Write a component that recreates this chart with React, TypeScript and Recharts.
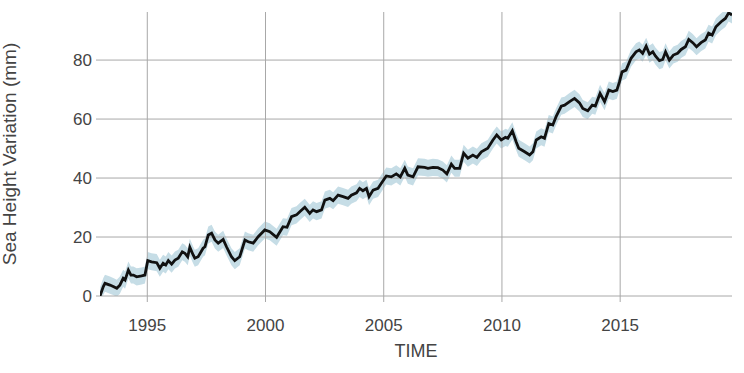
import { ComposedChart, Line, Area, XAxis, YAxis, ReferenceLine } from "recharts";

// decimal year of each reading
const years = [
  1993.0, 1993.14, 1993.21, 1993.42, 1993.56, 1993.71, 1993.84, 1993.98, 1994.06, 1994.2,
  1994.31, 1994.41, 1994.55, 1994.76, 1994.9, 1995.02, 1995.18, 1995.4, 1995.53, 1995.67,
  1995.78, 1995.89, 1996.03, 1996.17, 1996.31, 1996.48, 1996.59, 1996.71, 1996.8, 1996.94,
  1997.01, 1997.15, 1997.36, 1997.44, 1997.58, 1997.72, 1997.86, 1998.0, 1998.21, 1998.35,
  1998.56, 1998.7, 1998.91, 1999.13, 1999.27, 1999.48, 1999.69, 1999.97, 2000.18, 2000.47,
  2000.74, 2000.91, 2001.1, 2001.31, 2001.45, 2001.66, 2001.87, 2002.01, 2002.16, 2002.37,
  2002.51, 2002.72, 2002.86, 2003.07, 2003.28, 2003.49, 2003.63, 2003.85, 2003.98, 2004.12,
  2004.27, 2004.38, 2004.55, 2004.76, 2004.9, 2005.11, 2005.32, 2005.53, 2005.7, 2005.89,
  2006.02, 2006.24, 2006.45, 2006.73, 2006.87, 2007.08, 2007.29, 2007.5, 2007.67, 2007.86,
  2008.0, 2008.21, 2008.38, 2008.56, 2008.77, 2008.94, 2009.13, 2009.4, 2009.62, 2009.78,
  2009.97, 2010.15, 2010.25, 2010.44, 2010.6, 2010.71, 2010.96, 2011.17, 2011.31, 2011.45,
  2011.66, 2011.8, 2011.98, 2012.15, 2012.29, 2012.51, 2012.65, 2012.86, 2013.07, 2013.28,
  2013.42, 2013.63, 2013.82, 2013.95, 2014.15, 2014.34, 2014.52, 2014.69, 2014.86, 2014.97,
  2015.08, 2015.25, 2015.46, 2015.67, 2015.81, 2015.95, 2016.1, 2016.24, 2016.38, 2016.49,
  2016.66, 2016.8, 2016.92, 2017.08, 2017.25, 2017.43, 2017.58, 2017.76, 2017.9, 2018.07,
  2018.23, 2018.42, 2018.6, 2018.74, 2018.89, 2019.05, 2019.27, 2019.45, 2019.59, 2019.73,
];

// sea height variation (mm)
const heights = [
  0.0, 3.2, 4.3, 3.7, 3.2, 2.6, 3.7, 6.0, 5.4, 8.8,
  7.1, 7.1, 6.5, 6.8, 7.1, 12.0, 11.6, 11.3, 9.4, 11.1,
  10.5, 12.0, 10.8, 12.2, 12.8, 15.0, 14.5, 13.3, 16.5, 13.9,
  12.8, 13.3, 16.2, 16.7, 20.7, 21.3, 19.0, 17.9, 19.2, 16.7,
  13.3, 12.0, 13.3, 19.0, 18.4, 17.9, 20.1, 22.4, 21.8, 19.9,
  23.5, 23.3, 26.9, 27.5, 28.6, 30.1, 28.0, 29.2, 28.6, 29.2,
  32.5, 33.1, 32.3, 34.2, 33.7, 33.1, 34.2, 35.0, 36.5, 35.7,
  36.5, 33.7, 35.9, 36.5, 38.2, 40.7, 40.4, 41.4, 40.4, 43.3,
  41.0, 40.4, 43.8, 43.6, 43.3, 43.6, 43.5, 42.7, 41.4, 44.7,
  43.3, 43.3, 48.4, 46.7, 47.8, 47.0, 48.9, 50.1, 52.9, 54.6,
  52.9, 53.8, 53.5, 56.0, 52.3, 50.1, 48.9, 47.8, 48.9, 52.9,
  54.0, 53.5, 58.5, 58.0, 60.8, 64.4, 64.7, 65.9, 67.0, 65.5,
  63.6, 62.8, 64.7, 64.4, 68.7, 65.9, 69.8, 69.3, 69.8, 72.6,
  76.0, 76.6, 80.6, 82.8, 83.4, 82.3, 84.7, 82.0, 82.8, 81.4,
  79.8, 80.2, 82.8, 80.0, 81.7, 82.3, 83.6, 84.5, 87.0, 85.9,
  84.5, 85.9, 86.8, 89.1, 88.5, 91.3, 93.0, 94.1, 96.0, 95.3,
];

// half width of the shaded uncertainty band (mm)
const uncertainty = 2.9;

const xTicks = [1995, 2000, 2005, 2010, 2015];
const yTicks = [0, 20, 40, 60, 80];

const data = years.map((t, i) => ({
  t,
  v: heights[i],
  band: [heights[i] - uncertainty, heights[i] + uncertainty],
}));

const font = "'Liberation Sans', Arial, Helvetica, sans-serif";
const gridColor = "#a8a8a8";
const tickStyle = { fontSize: 17, fill: "#444", fontFamily: font };

export default function App() {
  return (
    <div style={{ position: "absolute", left: 0, top: 0, background: "#fff" }}>
      <ComposedChart width={744} height={373} data={data} margin={{ top: 12, right: 12, bottom: 0, left: 0 }}>
        <XAxis
          type="number"
          dataKey="t"
          domain={[1993, 2019.73]}
          ticks={xTicks}
          allowDataOverflow
          height={77}
          axisLine={false}
          tickLine={{ stroke: gridColor }}
          tickSize={6}
          tickMargin={17}
          tick={tickStyle}
          label={{ value: "TIME", position: "insideBottom", offset: 16, style: { fontSize: 18, fill: "#444", fontFamily: font } }}
        />
        <YAxis
          type="number"
          domain={[0, 96.3]}
          ticks={yTicks}
          allowDataOverflow
          width={100}
          axisLine={false}
          tickLine={{ stroke: gridColor }}
          tickSize={4}
          tickMargin={4}
          tick={tickStyle}
          label={{
            content: () => (
              <text
                x={16}
                y={154}
                transform="rotate(-90 16 154)"
                textAnchor="middle"
                fontSize={19}
                fill="#444"
                fontFamily={font}
              >
                Sea Height Variation (mm)
              </text>
            ),
          }}
        />
        {yTicks.map((v) => (
          <ReferenceLine key={`h${v}`} y={v} stroke={gridColor} strokeWidth={1} />
        ))}
        {xTicks.map((t) => (
          <ReferenceLine key={`v${t}`} x={t} stroke={gridColor} strokeWidth={1} />
        ))}
        <Area
          type="linear"
          dataKey="band"
          stroke="none"
          fill="#c6dde6"
          fillOpacity={1}
          isAnimationActive={false}
          activeDot={false}
        />
        <Line
          type="linear"
          dataKey="v"
          stroke="#111"
          strokeWidth={2.8}
          dot={false}
          activeDot={false}
          isAnimationActive={false}
        />
      </ComposedChart>
    </div>
  );
}
